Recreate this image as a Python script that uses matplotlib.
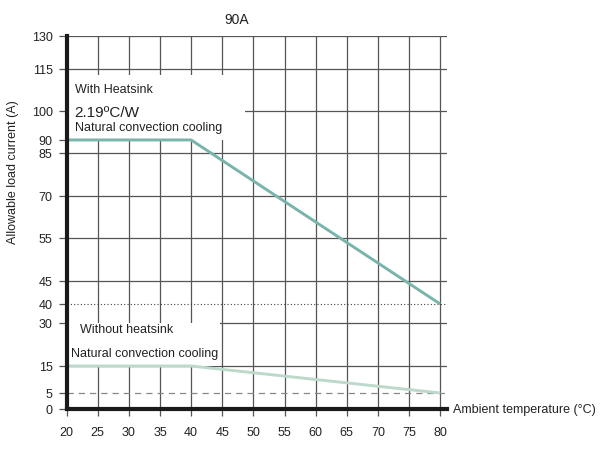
import numpy as np
import matplotlib
matplotlib.use("Agg")
import matplotlib.pyplot as plt
from matplotlib.patches import Rectangle

plt.rcParams['font.family'] = ['Liberation Sans', 'DejaVu Sans']

# derating curves
temp = [20, 40, 80]
with_heatsink = [90, 90, 40]
without_heatsink = [15, 15, 5]

x_ticks = list(range(20, 85, 5))
y_ticks = [0, 5, 15, 30, 40, 45, 55, 70, 85, 90, 100, 115, 130]
# the printed chart has an uneven vertical scale: where each tick sits (px above the x axis)
y_tick_pos = [0, 16, 43, 86, 105, 128, 171, 213, 256, 269, 298, 340, 373]
y_grid = [15, 45, 55, 70, 85, 115, 130]
y_grid_partial = [(30, 44.6), (100, 48.7)]


def fwd(v):
    return np.interp(v, y_ticks, y_tick_pos)


def inv(p):
    return np.interp(p, y_tick_pos, y_ticks)


fig = plt.figure(figsize=(6, 4.6), dpi=100)
ax = fig.add_axes([0.111, 0.1087, 0.634, 0.811])
ax.set_yscale('function', functions=(fwd, inv))
ax.set_xlim(20, 81.1)
ax.set_ylim(0, 130)

grid_c = '#555555'
for x in x_ticks[1:]:
    ax.plot([x, x], [0, 130], color=grid_c, lw=0.9, zorder=1)
for y in y_grid:
    ax.plot([20, 81.1], [y, y], color=grid_c, lw=0.9, zorder=1)
for y, x0 in y_grid_partial:
    ax.plot([x0, 81.1], [y, y], color=grid_c, lw=0.9, zorder=1)
ax.plot([20, 81.1], [40, 40], color='#444444', lw=0.8, ls=(0, (1, 2)), zorder=1)
ax.plot([20, 81.1], [5, 5], color='#888888', lw=0.9, ls=(0, (5, 4)), zorder=1)

# white label boxes that hide the grid
ax.add_patch(Rectangle((20, 90), 28.7, 23, facecolor='white', edgecolor='none', zorder=2))
ax.add_patch(Rectangle((20, 15), 24.6, 15, facecolor='white', edgecolor='none', zorder=2))

ax.plot(temp, with_heatsink, color='#79b4ab', lw=2.1, zorder=3, solid_capstyle='butt')
ax.plot(temp, without_heatsink, color='#bcd9cb', lw=2.1, zorder=3, solid_capstyle='butt')

ax.text(21.3, 107.9, 'With Heatsink', fontsize=9, color='#222222', va='center', zorder=4)
ax.text(21.3, 99.6, '2.19ºC/W', fontsize=11, color='#222222', va='center', zorder=4)
ax.text(21.3, 94.6, 'Natural convection cooling', fontsize=9, color='#222222', va='center', zorder=4)
ax.text(22.1, 27.8, 'Without heatsink', fontsize=9, color='#222222', va='center', zorder=4)
ax.text(20.7, 19.5, 'Natural convection cooling', fontsize=9, color='#222222', va='center', zorder=4)

ax.set_xticks(x_ticks)
ax.set_yticks(y_ticks)
ax.tick_params(axis='both', labelsize=9, colors='#222222')
ax.tick_params(axis='x', length=5, width=0.9, color=grid_c, pad=7)
ax.tick_params(axis='y', length=6, width=0.9, color=grid_c, pad=4)

for s in ['top', 'right']:
    ax.spines[s].set_visible(False)
for s in ['left', 'bottom']:
    ax.spines[s].set_linewidth(3)
    ax.spines[s].set_color('#1a1a1a')
    ax.spines[s].set_zorder(5)

fig.text(0.395, 0.957, '90A', fontsize=10, ha='center', va='center', color='#222222')
fig.text(0.022, 0.625, 'Allowable load current (A)', fontsize=9, rotation=90,
         ha='center', va='center', color='#222222')
fig.text(0.755, 0.109, 'Ambient temperature (°C)', fontsize=9, ha='left', va='center', color='#222222')

fig.savefig('out.png', dpi=100)
